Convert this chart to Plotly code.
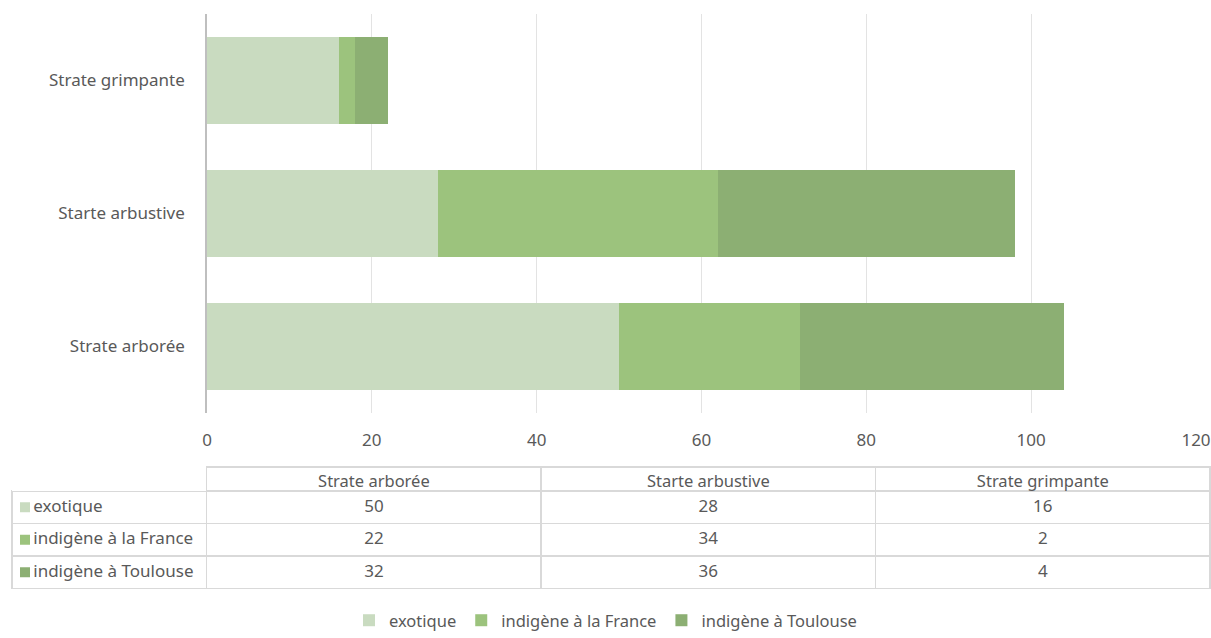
import plotly.graph_objects as go

categories = ["Strate arborée", "Starte arbustive", "Strate grimpante"]
series_names = ["exotique", "indigène à la France", "indigène à Toulouse"]
exotique = [50, 28, 16]
indigene_france = [22, 34, 2]
indigene_toulouse = [32, 36, 4]
x_ticks = [0, 20, 40, 60, 80, 100, 120]

colors = ["#C9DBC0", "#9CC37D", "#8CAF73"]
values = [exotique, indigene_france, indigene_toulouse]
txt = "#595959"
font = "Noto Sans"
W, H = 1211, 638
NB = "\u00a0"

fig = go.Figure()
for name, vals, col in zip(series_names, values, colors):
    fig.add_trace(go.Bar(
        y=categories, x=vals, name=name, orientation="h",
        marker=dict(color=col, line=dict(width=0)),
    ))

# data table
table_top = 467
header_h = 24
row_h = 32.5
first_col = [NB * 3 + n for n in series_names]
table_cols = [first_col] + [[str(v[i]) for v in values] for i in range(len(categories))]
fig.add_trace(go.Table(
    domain=dict(x=[12 / W, 1210 / W], y=[0.0, 1 - table_top / H]),
    columnwidth=[195, 335, 335, 335],
    header=dict(
        values=[""] + categories,
        height=header_h,
        align="center",
        fill=dict(color="white"),
        line=dict(color=["rgba(0,0,0,0)", "#D9D9D9", "#D9D9D9", "#D9D9D9"], width=1.5),
        font=dict(family=font, size=16.5, color=txt),
    ),
    cells=dict(
        values=table_cols,
        height=row_h,
        align=["left", "center", "center", "center"],
        fill=dict(color="white"),
        line=dict(color="#D9D9D9", width=1.5),
        font=dict(family=font, size=17, color=txt),
    ),
))

# legend keys inside the table's first column
shapes = []
for i, col in enumerate(colors):
    cy = table_top + header_h + row_h * (i + 0.5)
    shapes.append(dict(
        type="rect", xref="paper", yref="paper",
        x0=20 / W, x1=30 / W, y0=1 - (cy + 5) / H, y1=1 - (cy - 5) / H,
        fillcolor=col, line=dict(width=0),
    ))

fig.update_layout(
    width=W, height=H,
    margin=dict(l=0, r=0, t=0, b=0),
    barmode="stack",
    bargap=0.34,
    plot_bgcolor="white",
    paper_bgcolor="white",
    font=dict(family=font, size=16, color=txt),
    showlegend=True,
    shapes=shapes,
    legend=dict(
        orientation="h", x=0.5, xanchor="center",
        y=0, yanchor="bottom",
        font=dict(family=font, size=16.5, color=txt),
        itemsizing="constant", traceorder="normal",
        itemwidth=30, tracegroupgap=0,
    ),
    xaxis=dict(
        domain=[207 / W, 1196 / W],
        range=[0, 120],
        tickvals=x_ticks,
        showgrid=True, gridcolor="#E3E3E3", gridwidth=1,
        zeroline=False, showline=False,
        ticks="outside", ticklen=0, ticklabelstandoff=12,
        tickfont=dict(family=font, size=17, color=txt),
        automargin=False,
        fixedrange=True,
    ),
    yaxis=dict(
        domain=[1 - 413 / H, 1 - 14 / H],
        showgrid=False, zeroline=False,
        showline=True, linecolor="#BFBFBF", linewidth=1.5,
        ticks="outside", ticklen=0, ticklabelstandoff=17,
        tickfont=dict(family=font, size=17, color=txt),
        automargin=False,
        fixedrange=True,
    ),
)

fig.write_html(
    "out.html",
    config={"displayModeBar": False},
    post_script="document.body.style.margin='0';document.body.style.overflow='hidden';",
)
